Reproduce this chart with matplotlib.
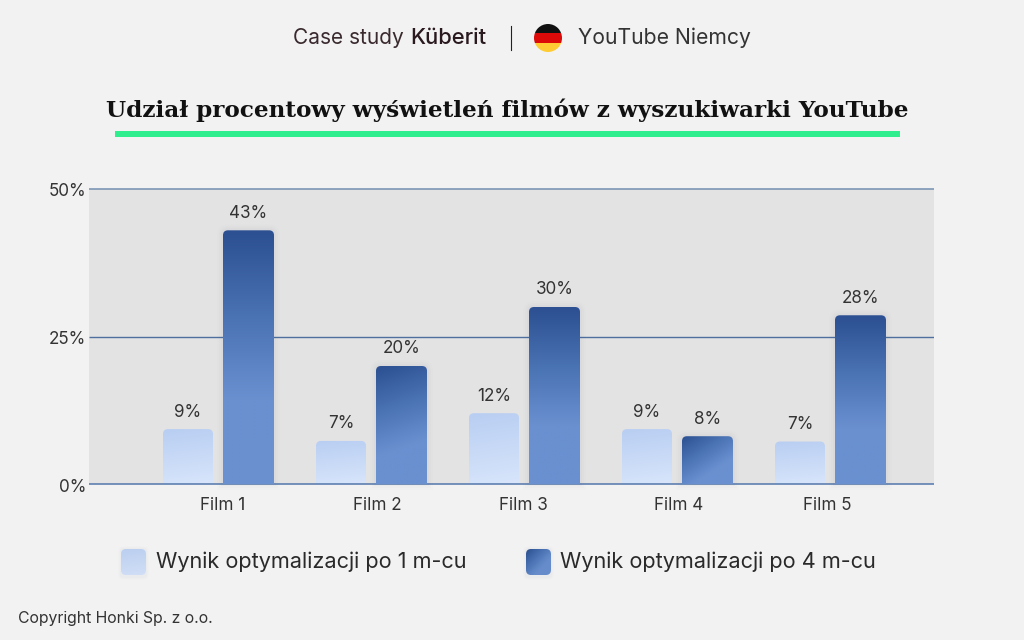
import numpy as np
import matplotlib
matplotlib.use("Agg")
import matplotlib.pyplot as plt
from matplotlib.path import Path
from matplotlib.patches import PathPatch, Circle, Rectangle, FancyBboxPatch
from matplotlib.colors import LinearSegmentedColormap
from matplotlib.transforms import ScaledTranslation

categories = ["Film 1", "Film 2", "Film 3", "Film 4", "Film 5"]
after_1_month = [9.3, 7.3, 12.0, 9.3, 7.2]
after_4_months = [43.0, 20.0, 30.0, 8.1, 28.6]
labels_1_month = ["9%", "7%", "12%", "9%", "7%"]
labels_4_months = ["43%", "20%", "30%", "8%", "28%"]
y_ticks = [0, 25, 50]
y_tick_labels = ["0%", "25%", "50%"]
legend_labels = ["Wynik optymalizacji po 1 m-cu", "Wynik optymalizacji po 4 m-cu"]
title = "Udział procentowy wyświetleń filmów z wyszukiwarki YouTube"

BG = "#f2f2f2"
TXT = "#333333"
FONT = "Inter"
W, H = 1024, 640
plt.rcParams["font.family"] = [FONT, "DejaVu Sans"]

light = LinearSegmentedColormap.from_list("l", ["#b8cef2", "#d8e5fb"])
dark = LinearSegmentedColormap.from_list("d", ["#2c5091", "#4a73b4", "#6a90d0", "#6a90d0"])

fig = plt.figure(figsize=(W / 100, H / 100), dpi=100, facecolor=BG)

def px_axes(l, t, r, b, **kw):
    return fig.add_axes([l / W, 1 - b / H, (r - l) / W, (b - t) / H], **kw)

ax = px_axes(89, 189, 934, 484)
ax.set_facecolor("#e3e3e3")
spacing = 153.0
xlim = (-(218 - 89) / spacing, (934 - 218) / spacing)
for s in ax.spines.values():
    s.set_visible(False)

x_scale = 1 / spacing       # data units per px
y_scale = 50 / 295.0

def rounded_top(x0, x1, y0, y1, r=5):
    rx, ry = r * x_scale, min(r * y_scale, (y1 - y0) / 2)
    verts = [(x0, y0), (x0, y1 - ry), (x0, y1), (x0 + rx, y1), (x1 - rx, y1), (x1, y1),
             (x1, y1 - ry), (x1, y0), (x0, y0)]
    codes = [Path.MOVETO, Path.LINETO, Path.CURVE3, Path.CURVE3, Path.LINETO, Path.CURVE3,
             Path.CURVE3, Path.LINETO, Path.CLOSEPOLY]
    return Path(verts, codes)

def gradient(angle=0.0, n=64):
    yy, xx = np.mgrid[0:1:n * 1j, 0:1:n * 1j]
    return yy * (1 - angle) + (xx + yy) / 2 * angle

def grad_bar(a, x, val, w, cmap, z, angle=0.0, shadow=False):
    y0 = -0.35 if shadow else 0
    if shadow:
        for grow, al in [(6, .008), (4, .012), (2, .018)]:
            a.add_patch(PathPatch(rounded_top(x - w / 2 - grow * x_scale, x + w / 2 + grow * x_scale,
                                              -grow * y_scale, val + grow * y_scale, r=5 + grow),
                                  fc="#1f3560", ec="none", alpha=al, zorder=z - .1, clip_on=False))
    im = a.imshow(gradient(angle), extent=(x - w / 2, x + w / 2, y0, val), cmap=cmap, vmin=0, vmax=1,
                  aspect="auto", zorder=z, interpolation="bilinear")
    patch = PathPatch(rounded_top(x - w / 2, x + w / 2, y0, val), transform=a.transData, fc="none", ec="none")
    a.add_patch(patch)
    im.set_clip_path(patch)

bar_w_light = 50 / spacing
bar_w_dark = 51 / spacing
off_light = 30 / spacing
off_dark = 30.5 / spacing
xs = np.arange(len(categories))
angles = [0.0, 0.25, 0.0, 0.8, 0.0]
for i in xs:
    grad_bar(ax, i - off_light, after_1_month[i], bar_w_light, light, 2, angle=0.2)
    grad_bar(ax, i + off_dark, after_4_months[i], bar_w_dark, dark, 4, angle=angles[i], shadow=True)
    ax.text(i - off_light, after_1_month[i] + 1.45, labels_1_month[i], ha="center", va="bottom",
            fontsize=12.3, color=TXT, zorder=6)
    ax.text(i + off_dark, after_4_months[i] + 1.45, labels_4_months[i], ha="center", va="bottom",
            fontsize=12.3, color=TXT, zorder=6)
ax.set_xlim(*xlim)
ax.set_ylim(0, 50)

ax.hlines([25], *xlim, color="#4f6f9f", lw=1.0, zorder=1)
ax.hlines([50], *xlim, color="#7d96b5", lw=1.2, zorder=3, clip_on=False)
ax.hlines([0], *xlim, color="#5f80b0", lw=1.2, zorder=3, clip_on=False)

ax.set_yticks(y_ticks, y_tick_labels, fontsize=12.3, color=TXT)
ax.set_xticks(np.array([0.033, 0.04, -0.007, 0.01, -0.017]) + xs, categories, fontsize=12.3, color=TXT)
ax.tick_params(axis="both", length=0)
ax.tick_params(axis="y", pad=2)
ax.tick_params(axis="x", pad=9)
down = ScaledTranslation(0, -1 / 100, fig.dpi_scale_trans)
for lab in ax.get_yticklabels():
    lab.set_transform(lab.get_transform() + down)

# page furniture in pixel coordinates
ov = fig.add_axes([0, 0, 1, 1], zorder=10)
ov.set_xlim(0, W); ov.set_ylim(H, 0); ov.axis("off"); ov.patch.set_alpha(0)

ov.text(293, 38, "Case study", fontsize=15, color="#3a2a2e", va="center", ha="left")
ov.text(410, 38, "Küberit", fontsize=15.8, color="#2a1a20", va="center", ha="left", fontweight="medium")
ov.plot([511, 511], [26, 50], color="#222222", lw=0.8)
ov.text(578, 37.5, "YouTube Niemcy", fontsize=15.2, color="#333333", va="center", ha="left")

flag_ax = px_axes(534, 24, 562, 52)
flag_ax.axis("off")
flag_ax.set_xlim(0, 1); flag_ax.set_ylim(1, 0)
clip = Circle((.5, .5), .5, transform=flag_ax.transData)
for y, c in zip([0, 1 / 3, 2 / 3], ["#111111", "#dd0a0a", "#ffcc33"]):
    r = Rectangle((0, y), 1, 1 / 3, fc=c, ec="none")
    flag_ax.add_patch(r)
    r.set_clip_path(clip)

ov.text(507, 110, title, fontsize=16.7, family="DejaVu Serif", fontweight="bold", color="#111111",
        ha="center", va="center")
ov.add_patch(Rectangle((115, 131), 785, 5.5, fc="#2fee8e", ec="none"))

swatches = [(121, light, 0.2), (526, dark, 1.0)]
text_x = [156, 560]
for (sx, cmap, ang), tx, lab in zip(swatches, text_x, legend_labels):
    sw = px_axes(sx, 549, sx + 25, 575)
    sw.axis("off")
    sw.set_xlim(0, 1); sw.set_ylim(1, 0)
    for g, al in [(2.5, .012), (1.2, .02)]:
        ov.add_patch(FancyBboxPatch((sx - g + 2, 551 - g), 21 + 2 * g, 24 + 2 * g,
                                    boxstyle="round,pad=2,rounding_size=4",
                                    fc="#1f3560", ec="none", alpha=al))
    im = sw.imshow(gradient(ang), extent=(0, 1, 1, 0), cmap=cmap, vmin=-0.4 if cmap is light else 0, vmax=1,
                   aspect="auto")
    bb = FancyBboxPatch((.12, .12), .76, .76, boxstyle="round,pad=.12,rounding_size=.2",
                        transform=sw.transData, fc="none", ec="none")
    sw.add_patch(bb)
    im.set_clip_path(bb)
    ov.text(tx, 562, lab, fontsize=15.6, color="#2a2a2a", va="center", ha="left")

ov.text(18, 618.5, "Copyright Honki Sp. z o.o.", fontsize=11.35, color="#333333", va="center", ha="left")

fig.savefig("out.png", dpi=100, facecolor=BG)
